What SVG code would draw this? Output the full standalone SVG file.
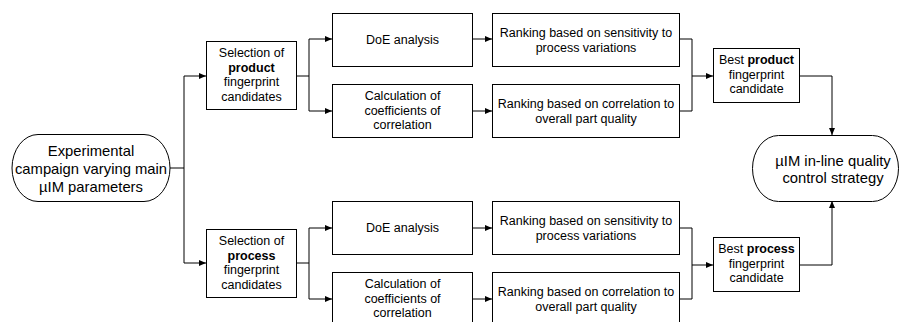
<svg xmlns="http://www.w3.org/2000/svg" width="899" height="322" viewBox="0 0 899 322">
<defs>
<marker id="arr" markerUnits="userSpaceOnUse" markerWidth="7" markerHeight="6" refX="7" refY="3" orient="auto">
<path d="M0,0 L7,3 L0,6 z" fill="#000"/>
</marker>
<style>
.box{fill:#fff;stroke:#000;stroke-width:1}
.t{font-family:"Liberation Sans",Arial,sans-serif;font-size:12.5px;fill:#000;text-anchor:middle}
.tt{font-family:"Liberation Sans",Arial,sans-serif;font-size:14.8px;fill:#000;text-anchor:middle}
.b{font-weight:bold}
.c{fill:none;stroke:#000;stroke-width:1}
.a{fill:none;stroke:#000;stroke-width:1;marker-end:url(#arr)}
</style>
</defs>
<rect width="899" height="322" fill="#fff"/>
<g id="connectors">
<path class="c" d="M170,168 H184 M184,76 V263"/>
<path class="a" d="M184,76 H206"/>
<path class="a" d="M184,263 H206"/>
<path class="c" d="M296,76 H309 M309,39 V111"/>
<path class="a" d="M309,39 H332"/>
<path class="a" d="M309,111 H332"/>
<path class="a" d="M472,39 H492"/>
<path class="a" d="M472,111 H492"/>
<path class="c" d="M679,39 H692 V111 H679"/>
<path class="a" d="M692,76 H713"/>
<path class="a" d="M799,76 H832 V135"/>
<path class="c" d="M296,263 H309 M309,228 V299"/>
<path class="a" d="M309,228 H332"/>
<path class="a" d="M309,299 H332"/>
<path class="a" d="M472,228 H492"/>
<path class="a" d="M472,299 H492"/>
<path class="c" d="M679,228 H692 V299 H679"/>
<path class="a" d="M692,265 H713"/>
<path class="a" d="M799,265 H832 V201"/>
</g>
<g id="start">
<rect class="box" x="12" y="134.5" width="158" height="67" rx="26" ry="33.5"/>
<text class="tt" x="91" y="156">Experimental</text>
<text class="tt" x="91" y="174">campaign varying main</text>
<text class="tt" x="91" y="192">µIM parameters</text>
</g>
<g id="sel-product">
<rect class="box" x="206.5" y="41.5" width="90" height="68"/>
<text class="t" x="251.5" y="57">Selection of</text>
<text class="t b" x="251.5" y="71.5">product</text>
<text class="t" x="251.5" y="86">fingerprint</text>
<text class="t" x="251.5" y="100.5">candidates</text>
</g>
<g id="doe1">
<rect class="box" x="332.5" y="13.5" width="140" height="53"/>
<text class="t" x="402.5" y="44">DoE analysis</text>
</g>
<g id="calc1">
<rect class="box" x="332.5" y="84.5" width="140" height="53"/>
<text class="t" x="402.5" y="100">Calculation of</text>
<text class="t" x="402.5" y="114.5">coefficients of</text>
<text class="t" x="402.5" y="129">correlation</text>
</g>
<g id="rank1">
<rect class="box" x="492.5" y="13.5" width="187" height="53"/>
<text class="t" x="586" y="37">Ranking based on sensitivity to</text>
<text class="t" x="586" y="51.5">process variations</text>
</g>
<g id="rank2">
<rect class="box" x="492.5" y="84.5" width="187" height="53"/>
<text class="t" x="586" y="108">Ranking based on correlation to</text>
<text class="t" x="586" y="122.5">overall part quality</text>
</g>
<g id="best-product">
<rect class="box" x="713.5" y="48.5" width="86" height="54"/>
<text class="t" x="756.5" y="64">Best <tspan class="b">product</tspan></text>
<text class="t" x="756.5" y="78.5">fingerprint</text>
<text class="t" x="756.5" y="93">candidate</text>
</g>
<g id="end">
<rect class="box" x="752.5" y="135.5" width="146" height="66" rx="26" ry="33"/>
<text class="tt" x="833" y="166">µIM in-line quality</text>
<text class="tt" x="833" y="183">control strategy</text>
</g>
<g id="sel-process">
<rect class="box" x="206.5" y="229.5" width="90" height="68"/>
<text class="t" x="251.5" y="245">Selection of</text>
<text class="t b" x="251.5" y="259.5">process</text>
<text class="t" x="251.5" y="274">fingerprint</text>
<text class="t" x="251.5" y="288.5">candidates</text>
</g>
<g id="doe2">
<rect class="box" x="332.5" y="201.5" width="140" height="53"/>
<text class="t" x="402.5" y="232">DoE analysis</text>
</g>
<g id="calc2">
<rect class="box" x="332.5" y="272.5" width="140" height="60"/>
<text class="t" x="402.5" y="288">Calculation of</text>
<text class="t" x="402.5" y="302.5">coefficients of</text>
<text class="t" x="402.5" y="317">correlation</text>
</g>
<g id="rank3">
<rect class="box" x="492.5" y="201.5" width="187" height="53"/>
<text class="t" x="586" y="225">Ranking based on sensitivity to</text>
<text class="t" x="586" y="239.5">process variations</text>
</g>
<g id="rank4">
<rect class="box" x="492.5" y="272.5" width="187" height="60"/>
<text class="t" x="586" y="296">Ranking based on correlation to</text>
<text class="t" x="586" y="310.5">overall part quality</text>
</g>
<g id="best-process">
<rect class="box" x="713.5" y="237.5" width="86" height="54"/>
<text class="t" x="756.5" y="253">Best <tspan class="b">process</tspan></text>
<text class="t" x="756.5" y="267.5">fingerprint</text>
<text class="t" x="756.5" y="282">candidate</text>
</g>
</svg>
